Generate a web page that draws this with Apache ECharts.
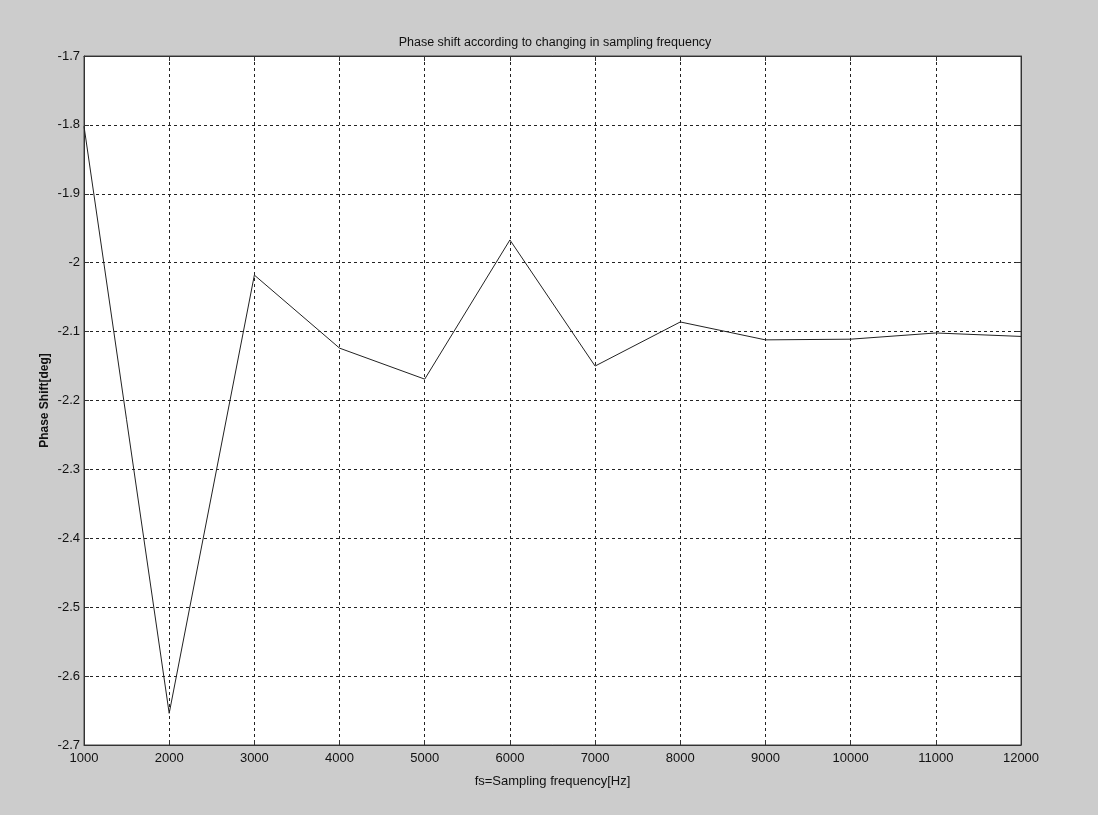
<!DOCTYPE html>
<html>
<head>
<meta charset="utf-8">
<script src="https://cdn.jsdelivr.net/npm/echarts@6/dist/echarts.min.js"></script>
<style>
html,body{margin:0;padding:0;background:#cccccc;}
#chart{width:1098px;height:815px;}
</style>
</head>
<body>
<div id="chart"></div>
<script>
const freqs = [1000, 2000, 3000, 4000, 5000, 6000, 7000, 8000, 9000, 10000, 11000, 12000];
const phaseShift = [-1.802, -2.654, -2.018, -2.124, -2.169, -1.967, -2.150, -2.086, -2.112, -2.111, -2.102, -2.107];
const titleText = 'Phase shift according to changing in sampling frequency';
const xLabel = 'fs=Sampling frequency[Hz]';
const yLabel = 'Phase Shift[deg]';

const chart = echarts.init(document.getElementById('chart'));
const font = '"Liberation Sans", Arial, sans-serif';
const tickStyle = {lineStyle: {color: '#333', width: 1}};
const gridLine = {show: true, lineStyle: {color: '#222', type: [3, 3], width: 1}};
chart.setOption({
  backgroundColor: '#cccccc',
  animation: false,
  title: {
    text: titleText, left: 550, top: 31, textAlign: 'center',
    textStyle: {fontFamily: font, fontSize: 12.5, fontWeight: 'normal', color: '#111'}
  },
  grid: {left: 84, top: 56, right: 77, bottom: 70, show: true, backgroundColor: '#ffffff', borderColor: '#444', borderWidth: 1},
  xAxis: [{
    type: 'value', min: 1000, max: 12000, interval: 1000,
    name: xLabel, nameLocation: 'middle', nameGap: 30,
    nameTextStyle: {fontFamily: font, fontSize: 13, color: '#111'},
    axisLine: {show: true, onZero: false, lineStyle: {color: '#333'}},
    axisTick: {show: true, inside: true, length: 5, ...tickStyle},
    axisLabel: {fontFamily: font, fontSize: 13, color: '#111', margin: 7,
      formatter: v => String(v)},
    splitLine: gridLine
  }, {
    type: 'value', position: 'top', min: 1000, max: 12000, interval: 1000,
    axisLine: {show: true, lineStyle: {color: '#333'}},
    axisTick: {show: true, inside: true, length: 5, ...tickStyle},
    axisLabel: {show: false}, splitLine: {show: false}
  }],
  yAxis: [{
    type: 'value', min: -2.7, max: -1.7, interval: 0.1,
    name: yLabel, nameLocation: 'middle', nameGap: 33, nameMoveOverlap: false,
    nameTextStyle: {fontFamily: font, fontSize: 12, fontWeight: 'bold', color: '#111'},
    axisLine: {show: true, onZero: false, lineStyle: {color: '#333'}},
    axisTick: {show: true, inside: true, length: 5, ...tickStyle},
    axisLabel: {fontFamily: font, fontSize: 13, color: '#111', margin: 4,
      formatter: v => String(parseFloat(v.toFixed(1)))},
    splitLine: gridLine
  }, {
    type: 'value', position: 'right', min: -2.7, max: -1.7, interval: 0.1,
    axisLine: {show: true, lineStyle: {color: '#333'}},
    axisTick: {show: true, inside: true, length: 5, ...tickStyle},
    axisLabel: {show: false}, splitLine: {show: false}
  }],
  series: [{
    type: 'line', xAxisIndex: 0, yAxisIndex: 0,
    data: freqs.map((f, i) => [f, phaseShift[i]]),
    showSymbol: false, symbol: 'none',
    lineStyle: {color: '#222', width: 1}
  }]
});
</script>
</body>
</html>
